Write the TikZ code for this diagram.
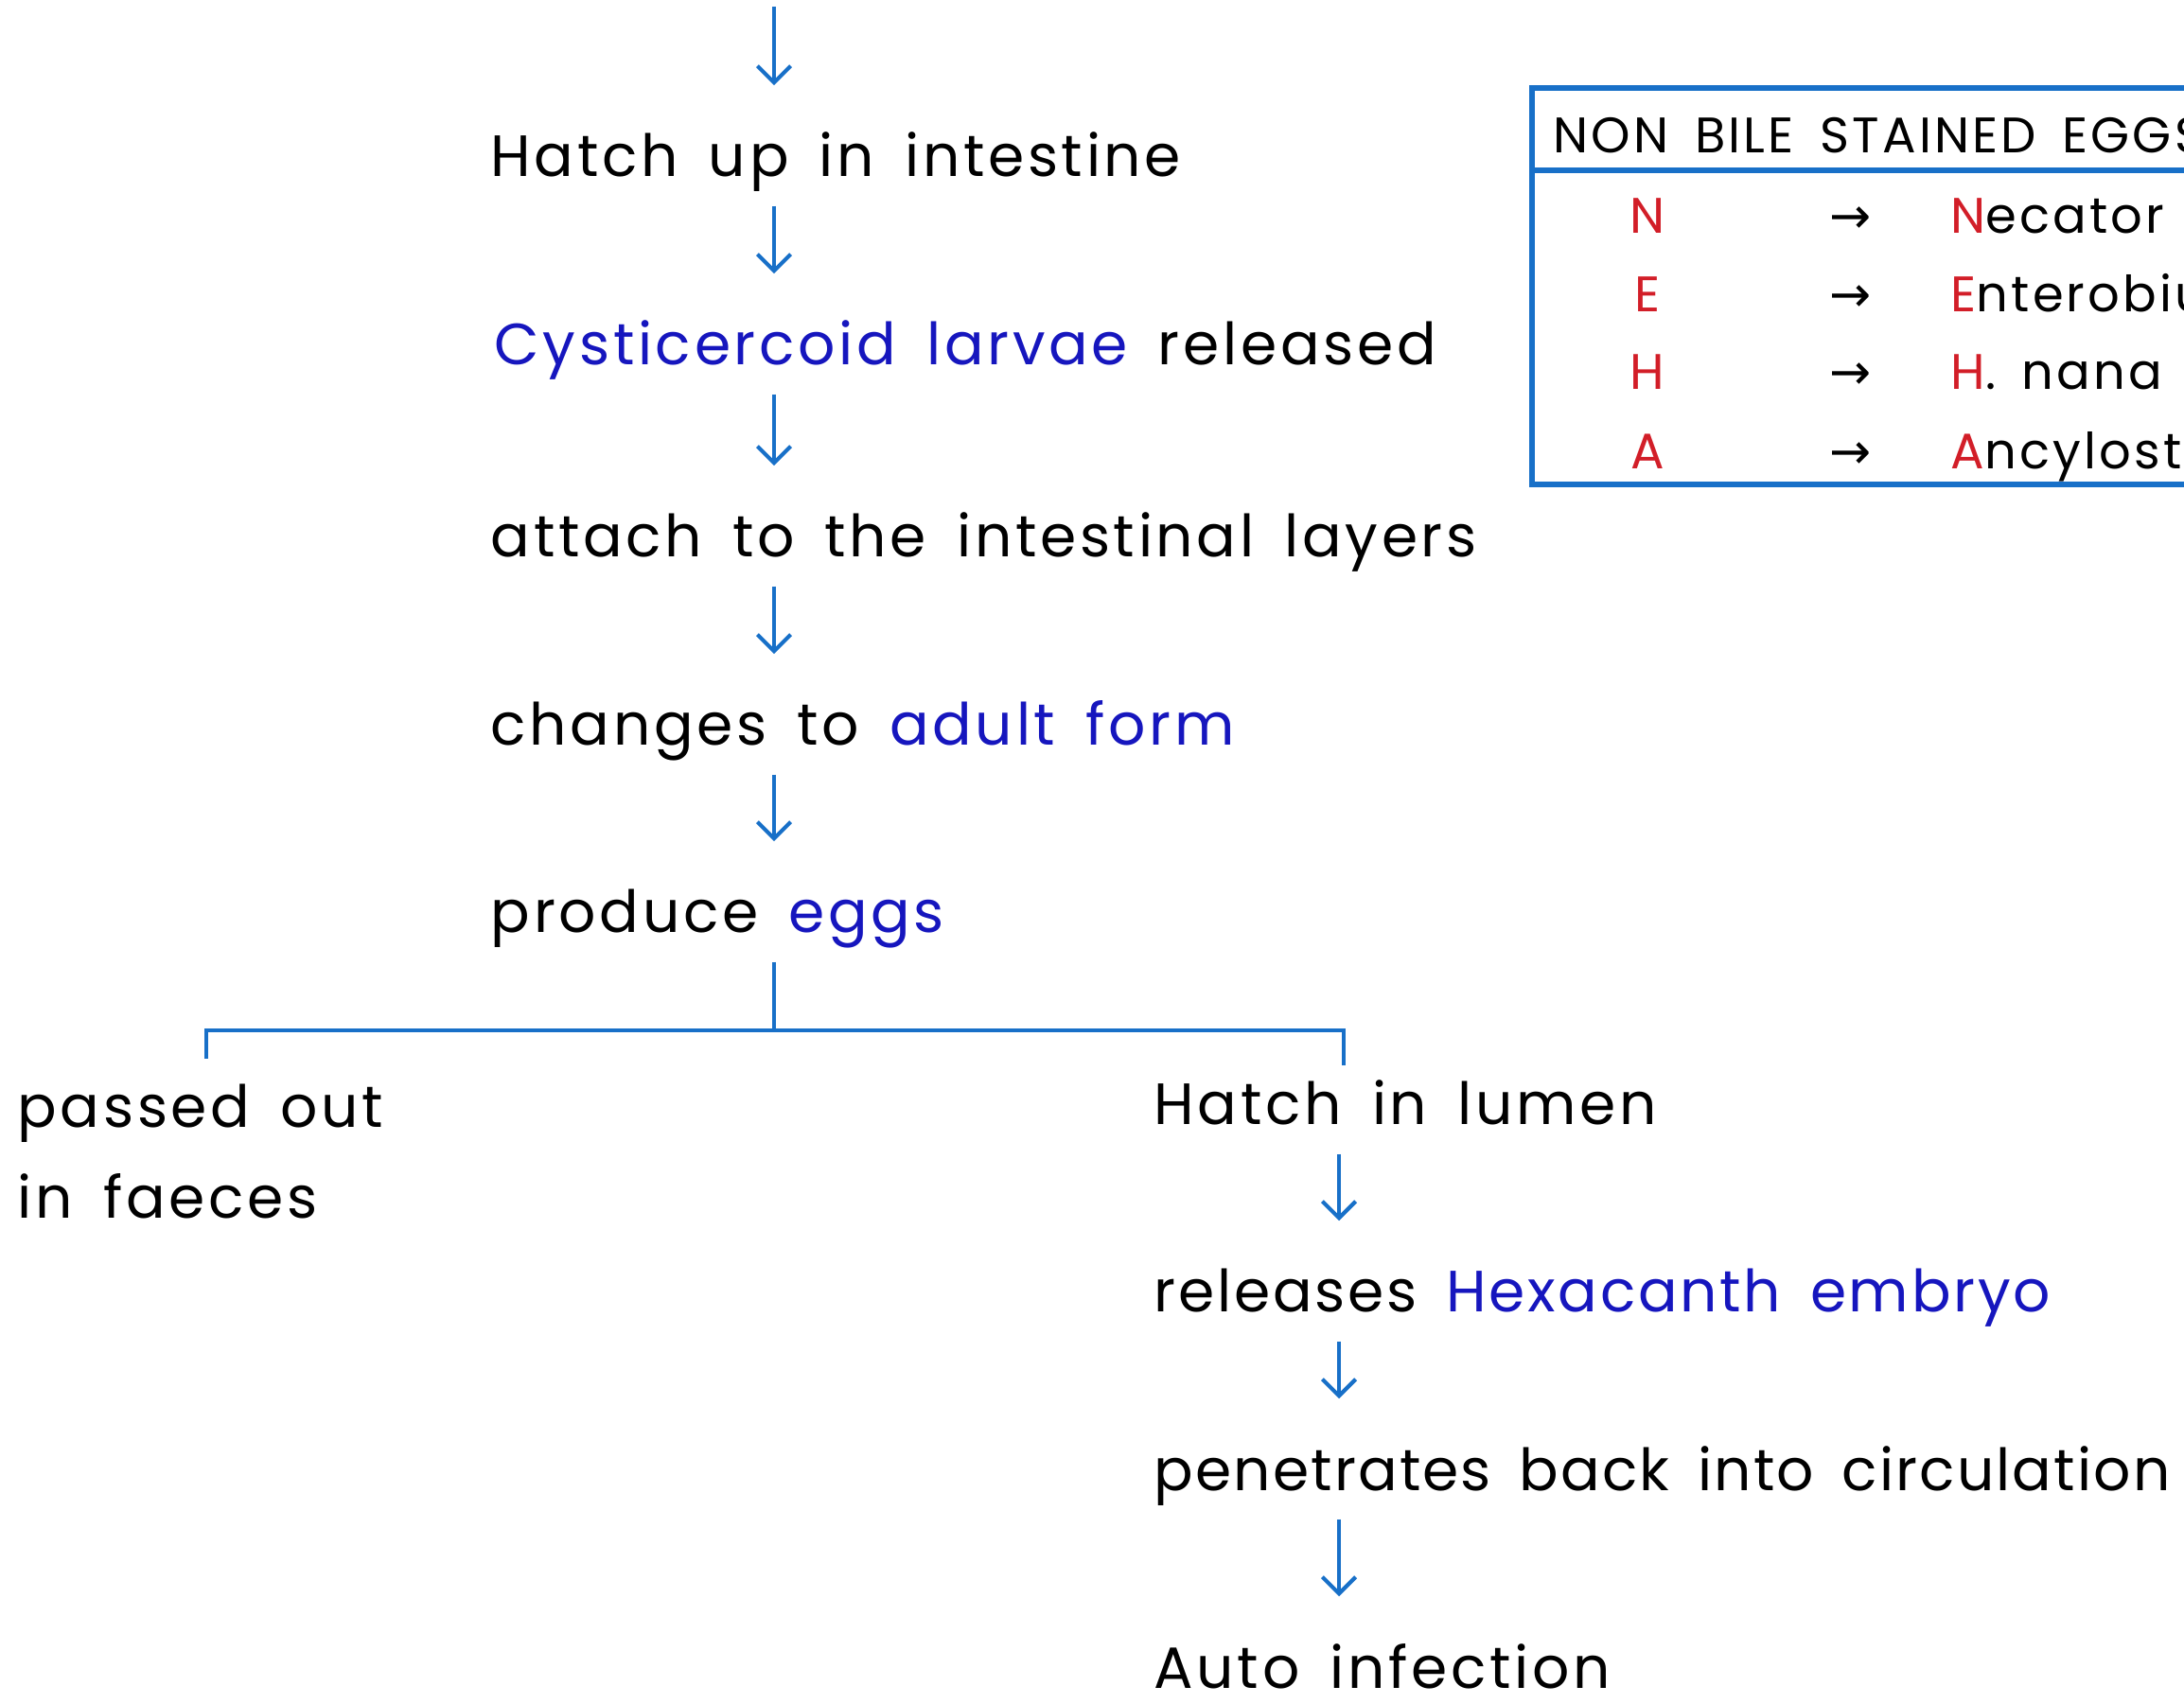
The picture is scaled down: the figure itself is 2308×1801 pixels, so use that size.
\documentclass[tikz,border=0pt]{standalone}
\usepackage{fontspec}
\setmainfont{Poppins}[LetterSpace=6, WordSpace=1.6]
\newfontfamily\arrowfont{DejaVu Sans}
\usetikzlibrary{arrows.meta}
\usetikzlibrary{positioning}
\definecolor{flowblue}{RGB}{24,112,200}
\definecolor{inkblue}{RGB}{22,22,190}
\definecolor{inkred}{RGB}{210,30,40}

\begin{document}
\begin{tikzpicture}[x=0.01cm,y=-0.01cm,
  stage/.style={anchor=base west, inner sep=0pt, text height=0.48cm, text depth=0.15cm,
    font=\fontsize{17.5}{20}\selectfont},
  flow/.style={draw=flowblue, line width=1.2pt, -{Straight Barb[length=5pt,width=10pt]},
    shorten <=0.15cm, shorten >=0.48cm},
  bracket/.style={draw=flowblue, line width=1.4pt},
  cell/.style={anchor=base, inner sep=0pt, font=\fontsize{15}{18}\selectfont}]
\clip (0,0) rectangle (2308,1801);
\coordinate (top) at (818,7);
\coordinate (spine) at (818,0);
\coordinate (spineR) at (1415,0);
\node[stage] (hatch) at (518,187) {Hatch up in intestine};
\node[stage] (cyst) at (522,386) {\textcolor{inkblue}{Cysticercoid larvae} released};
\node[stage] (attach) at (518,589) {attach to the intestinal layers};
\node[stage] (adult) at (518,788) {changes to \textcolor{inkblue}{adult form}};
\node[stage] (eggs) at (518,986) {produce \textcolor{inkblue}{eggs}};
\node[stage] (passed) at (18,1192) {passed out};
\node[stage] (faeces) at (18,1288) {in faeces};
\node[stage] (lumen) at (1219,1189) {Hatch in lumen};
\node[stage] (embryo) at (1219,1387) {\addfontfeature{LetterSpace=4.5}releases \textcolor{inkblue}{Hexacanth embryo}};
\node[stage] (circ) at (1219,1575) {\addfontfeature{LetterSpace=3.5}penetrates back into circulation};
\node[stage] (auto) at (1219,1784) {Auto infection};
\draw[flow, shorten <=0pt] (top) -- (hatch.north -| spine);
\draw[flow] (hatch.south -| spine) -- (cyst.north -| spine);
\draw[flow] (cyst.south -| spine) -- (attach.north -| spine);
\draw[flow] (attach.south -| spine) -- (adult.north -| spine);
\draw[flow] (adult.south -| spine) -- (eggs.north -| spine);
\draw[flow] (lumen.south -| spineR) -- (embryo.north -| spineR);
\draw[flow] (embryo.south -| spineR) -- (circ.north -| spineR);
\draw[flow] (circ.south -| spineR) -- (auto.north -| spineR);
\coordinate (fork) at (818,1089);
\coordinate (forkL) at (218,1089);
\coordinate (forkR) at (1420,1089);
\coordinate (footL) at (218,1119);
\coordinate (footR) at (1420,1126);
\draw[bracket, shorten <=0.15cm] (eggs.south -| spine) -- (fork);
\draw[bracket] (footL) -- (forkL) -- (forkR) -- (footR);
\draw[bracket, line width=1.6pt] (1619,93) rectangle (2340,512);
\draw[bracket, line width=1.6pt] (1619,180) -- (2340,180);
\node[cell, anchor=base west] (head) at (1641,162) {NON BILE STAINED EGGS};
\foreach \k/\name/\y in {N/ecator/247, E/nterobius/330, H/. nana/412, A/ncylostoma/496}{
  \node[cell, text=inkred] (key\k) at (1741,\y) {\k};
  \node[cell] (arr\k) at (1956,\y) {\arrowfont →};
  \node[cell, anchor=base west] (name\k) at (2061,\y) {\textcolor{inkred}{\k}\name};
}
\end{tikzpicture}
\end{document}
